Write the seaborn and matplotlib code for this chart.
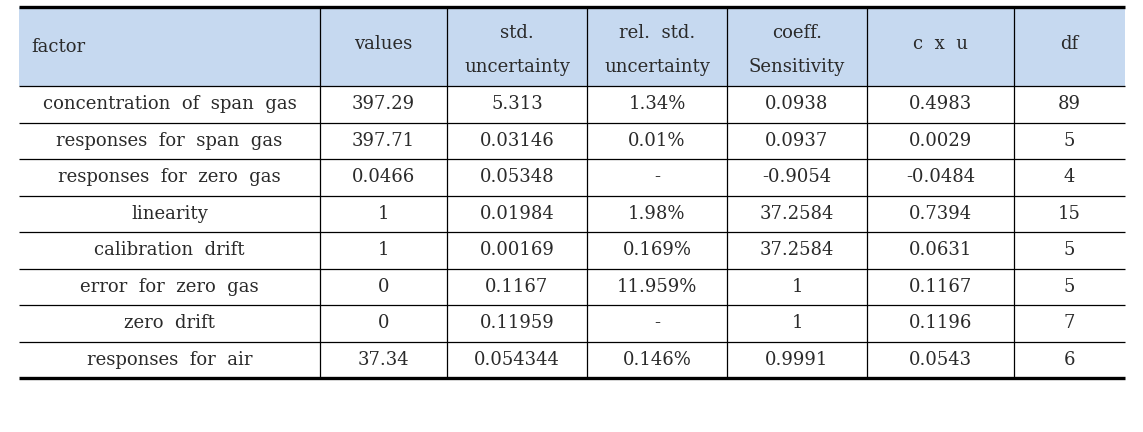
import matplotlib.pyplot as plt
import seaborn as sns
import pandas as pd

sns.set_theme(style="white")
plt.rcParams['font.family'] = ['DejaVu Serif']

# --- table content ---
headers = ["factor", "values", "std.\nuncertainty", "rel.  std.\nuncertainty",
           "coeff.\nSensitivity", "c  x  u", "df"]
factors = ["concentration  of  span  gas", "responses  for  span  gas",
           "responses  for  zero  gas", "linearity", "calibration  drift",
           "error  for  zero  gas", "zero  drift", "responses  for  air"]
values = ["397.29", "397.71", "0.0466", "1", "1", "0", "0", "37.34"]
std_unc = ["5.313", "0.03146", "0.05348", "0.01984", "0.00169", "0.1167", "0.11959", "0.054344"]
rel_unc = ["1.34%", "0.01%", "-", "1.98%", "0.169%", "11.959%", "-", "0.146%"]
sens = ["0.0938", "0.0937", "-0.9054", "37.2584", "37.2584", "1", "1", "0.9991"]
cxu = ["0.4983", "0.0029", "-0.0484", "0.7394", "0.0631", "0.1167", "0.1196", "0.0543"]
dof = ["89", "5", "4", "15", "5", "5", "7", "6"]

df = pd.DataFrame({h: col for h, col in zip(headers, [factors, values, std_unc, rel_unc, sens, cxu, dof])})

# layout (pixel units)
col_edges = [19, 320, 447, 587, 727, 867, 1014, 1125]
top, head_bottom, bottom = 7, 86, 378
row_h = (bottom - head_bottom) / len(df)
text_color = "#2a2a2a"
fs = 13

fig = plt.figure(figsize=(11.43, 4.32), dpi=100)
ax = fig.add_axes([0, 0, 1, 1])
ax.set_xlim(0, 1143)
ax.set_ylim(432, 0)
ax.axis("off")

# header background
ax.fill_between([col_edges[0], col_edges[-1]], top, head_bottom, color="#C6D9F0", lw=0)

# header texts
for j, h in enumerate(df.columns):
    if j == 0:
        ax.text(col_edges[0] + 12, 47, h, ha="left", va="center", fontsize=fs, color=text_color)
    else:
        xc = (col_edges[j] + col_edges[j + 1]) / 2
        yc = 50 if "\n" in h else 44
        ax.text(xc, yc, h, ha="center", va="center", fontsize=fs, color=text_color,
                linespacing=2.15)

# body cells
for i, row in enumerate(df.itertuples(index=False)):
    yc = head_bottom + row_h * (i + 0.5)
    for j, val in enumerate(row):
        xc = (col_edges[j] + col_edges[j + 1]) / 2
        ax.text(xc, yc, val, ha="center", va="center", fontsize=fs, color=text_color)

# horizontal rules
for i in range(len(df)):
    y = head_bottom + row_h * i
    ax.plot([col_edges[0], col_edges[-1]], [y, y], color="black", lw=0.9, solid_capstyle="butt")
ax.plot([col_edges[0], col_edges[-1]], [top, top], color="black", lw=2.4, solid_capstyle="butt")
ax.plot([col_edges[0], col_edges[-1]], [bottom, bottom], color="black", lw=2.4, solid_capstyle="butt")

# vertical rules
for x in col_edges[1:-1]:
    ax.plot([x, x], [top, bottom], color="black", lw=0.9)

fig.savefig("out.png", dpi=100)
